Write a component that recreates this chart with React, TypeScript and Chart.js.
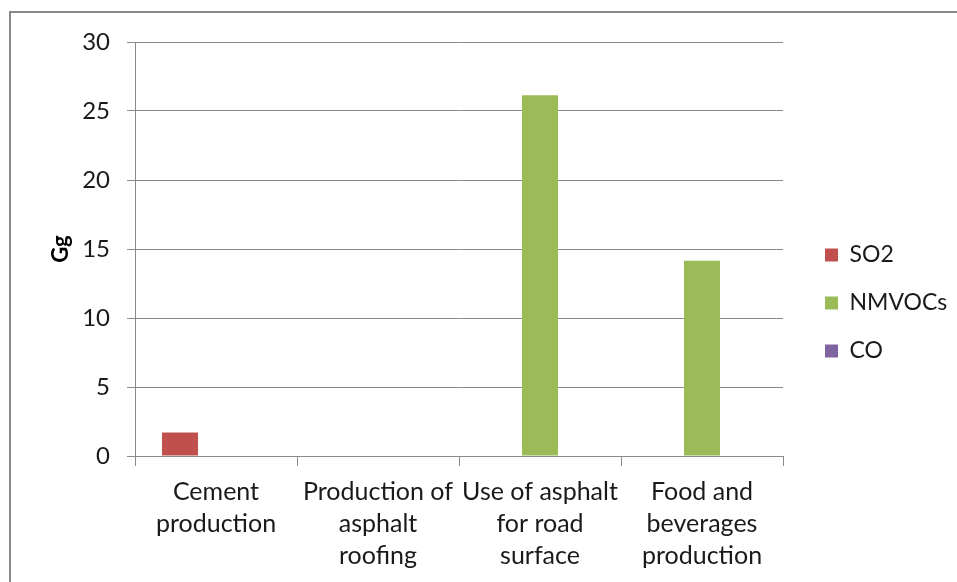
import React, { useEffect, useRef } from "react";
import { Chart, registerables } from "chart.js";

Chart.register(...registerables);

const categories: string[][] = [
  ["Cement", "production"],
  ["Production of", "asphalt", "roofing"],
  ["Use of asphalt", "for road", "surface"],
  ["Food and", "beverages", "production"],
];
const so2Values = [1.7, 0, 0, 0];
const nmvocValues = [0, 0, 26.15, 14.15];
const coValues = [0, 0, 0, 0];
const seriesNames = ["SO2", "NMVOCs", "CO"];
const seriesColors = ["#C0504D", "#9BBB59", "#8064A2"];
const yTicks = [0, 5, 10, 15, 20, 25, 30];

const FONT = 'Lato, "Open Sans", sans-serif';
const GRID = "#8a8a8a";

const placeLegend = {
  id: "placeLegend",
  afterLayout(chart: any) {
    const l = chart.legend;
    if (!l) return;
    l.left = 800;
    l.right = 957;
    l.width = 157;
    l.top = 44;
    l.bottom = 562;
    l.height = 518;
  },
};

export default function App() {
  const ref = useRef<HTMLCanvasElement | null>(null);
  useEffect(() => {
    if (!ref.current) return;
    const chart = new Chart(ref.current, {
      type: "bar",
      data: {
        labels: categories as any,
        datasets: [
          { label: seriesNames[0], data: so2Values, backgroundColor: seriesColors[0] },
          { label: seriesNames[1], data: nmvocValues, backgroundColor: seriesColors[1] },
          { label: seriesNames[2], data: coValues, backgroundColor: seriesColors[2] },
        ],
      },
      options: {
        responsive: false,
        animation: false,
        layout: { padding: { left: 48, top: 42, right: 174, bottom: 0 } },
        datasets: { bar: { categoryPercentage: 2 / 3, barPercentage: 1 } },
        plugins: {
          tooltip: { enabled: false },
          legend: {
            position: "chartArea",
            align: "center",
            labels: {
              boxWidth: 13,
              boxHeight: 13,
              padding: 25,
              color: "#1a1a1a",
              font: { family: FONT, size: 23 },
            },
          },
        },
        scales: {
          x: {
            type: "category",
            offset: true,
            grid: {
              offset: true,
              drawOnChartArea: false,
              drawTicks: true,
              tickLength: 10,
              color: GRID,
            },
            border: { display: true, color: GRID },
            ticks: {
              color: "#1a1a1a",
              padding: 10,
              maxRotation: 0,
              autoSkip: false,
              font: { family: FONT, size: 25, lineHeight: 32 / 25 },
            },
            afterFit(scale: any) {
              scale.height = 126;
            },
          },
          y: {
            min: 0,
            max: 30,
            afterBuildTicks(scale: any) {
              scale.ticks = yTicks.map((v) => ({ value: v }));
            },
            grid: { color: GRID, tickLength: 8, drawTicks: true },
            border: { display: true, color: GRID },
            ticks: {
              color: "#1a1a1a",
              padding: 17,
              font: { family: FONT, size: 24 },
            },
            title: {
              display: true,
              text: "Gg",
              color: "#000",
              padding: 0,
              font: { family: FONT, size: 22, weight: "bold" },
            },
            afterFit(scale: any) {
              scale.width = 87;
            },
          },
        },
      },
      plugins: [placeLegend],
    });
    return () => chart.destroy();
  }, []);

  return (
    <div style={{ position: "fixed", left: 0, top: 0, width: 957, height: 582, overflow: "hidden", background: "#fff" }}>
      <canvas ref={ref} width={957} height={582} style={{ position: "absolute", left: 0, top: 0 }} />
      <div
        style={{
          position: "absolute",
          left: 9,
          top: 11,
          width: 1100,
          height: 1100,
          borderLeft: "2px solid #888",
          borderTop: "2px solid #888",
          boxSizing: "border-box",
          pointerEvents: "none",
        }}
      />
    </div>
  );
}
